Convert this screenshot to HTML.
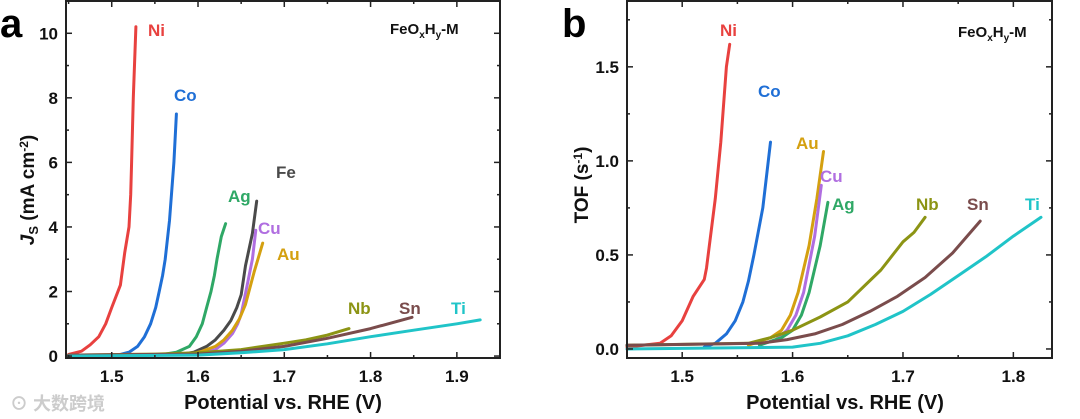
<!DOCTYPE html>
<html><head><meta charset="utf-8">
<style>
body{margin:0;background:#fff;}
svg{display:block;font-family:"Liberation Sans",Arial,sans-serif;font-weight:bold;}
</style></head>
<body>
<svg id="chart" width="1080" height="419" viewBox="0 0 1080 419" xmlns="http://www.w3.org/2000/svg"></svg>
<script>
// ---- Panel a data (Js) ----
const aNames=["Ni","Co","Ag","Fe","Cu","Au","Nb","Sn","Ti"];
const aNi=[[1.45,0.05],[1.465,0.15],[1.475,0.35],[1.485,0.6],[1.493,1.0],[1.5,1.5],[1.51,2.2],[1.515,3.2],[1.52,4.0],[1.522,5.0],[1.523,6],[1.525,8],[1.528,10.2]];
const aCo=[[1.51,0.05],[1.52,0.12],[1.53,0.3],[1.538,0.6],[1.545,1.0],[1.551,1.5],[1.555,2.0],[1.559,2.5],[1.562,3.0],[1.567,4.2],[1.572,6.0],[1.575,7.5]];
const aAg=[[1.56,0.05],[1.575,0.12],[1.59,0.3],[1.598,0.6],[1.605,1.0],[1.61,1.5],[1.615,2.0],[1.619,2.5],[1.622,3.0],[1.627,3.7],[1.632,4.1]];
const aFe=[[1.58,0.05],[1.595,0.12],[1.61,0.3],[1.62,0.5],[1.63,0.8],[1.638,1.1],[1.645,1.5],[1.65,1.9],[1.655,2.8],[1.663,3.8],[1.668,4.8]];
const aCu=[[1.6,0.05],[1.62,0.2],[1.63,0.4],[1.64,0.7],[1.646,1.0],[1.65,1.3],[1.657,2.2],[1.663,3.0],[1.667,3.9]];
const aAu=[[1.59,0.05],[1.605,0.15],[1.62,0.3],[1.63,0.5],[1.64,0.8],[1.648,1.15],[1.655,1.6],[1.665,2.6],[1.675,3.5]];
const aNb=[[1.45,0.03],[1.55,0.06],[1.6,0.1],[1.65,0.2],[1.7,0.4],[1.725,0.5],[1.75,0.65],[1.775,0.85]];
const aSn=[[1.45,0.03],[1.6,0.06],[1.65,0.15],[1.7,0.3],[1.75,0.55],[1.8,0.85],[1.848,1.2]];
const aTi=[[1.45,0.0],[1.6,0.03],[1.65,0.1],[1.7,0.2],[1.75,0.38],[1.8,0.6],[1.85,0.8],[1.9,1.0],[1.927,1.12]];
const aXTicks=[1.5,1.6,1.7,1.8,1.9];
const aYTicks=[0,2,4,6,8,10];
// ---- Panel b data (TOF) ----
const bNames=["Ni","Co","Au","Cu","Ag","Nb","Sn","Ti"];
const bNi=[[1.45,0.01],[1.48,0.03],[1.49,0.07],[1.5,0.15],[1.51,0.28],[1.52,0.37],[1.522,0.43],[1.53,0.8],[1.535,1.1],[1.54,1.5],[1.543,1.62]];
const bCo=[[1.52,0.01],[1.53,0.03],[1.54,0.08],[1.548,0.15],[1.555,0.25],[1.56,0.36],[1.565,0.5],[1.573,0.75],[1.578,1.0],[1.58,1.1]];
const bAu=[[1.56,0.02],[1.58,0.06],[1.59,0.1],[1.598,0.18],[1.605,0.3],[1.615,0.55],[1.622,0.8],[1.628,1.05]];
const bCu=[[1.57,0.02],[1.585,0.05],[1.595,0.1],[1.603,0.18],[1.61,0.3],[1.62,0.6],[1.626,0.87]];
const bAg=[[1.57,0.02],[1.59,0.06],[1.6,0.1],[1.608,0.18],[1.615,0.3],[1.625,0.55],[1.632,0.78]];
const bNb=[[1.45,0.02],[1.56,0.03],[1.58,0.06],[1.6,0.1],[1.625,0.17],[1.65,0.25],[1.68,0.42],[1.70,0.57],[1.71,0.62],[1.72,0.7]];
const bSn=[[1.45,0.02],[1.57,0.03],[1.595,0.05],[1.62,0.08],[1.645,0.13],[1.67,0.2],[1.695,0.28],[1.72,0.38],[1.745,0.51],[1.77,0.68]];
const bTi=[[1.45,0.0],[1.6,0.01],[1.625,0.03],[1.65,0.07],[1.675,0.13],[1.7,0.2],[1.725,0.29],[1.75,0.39],[1.775,0.49],[1.8,0.6],[1.825,0.7]];
const bXTicks=[1.5,1.6,1.7,1.8];
const bYTicks=[0,0.5,1.0,1.5];

const colors={Ni:"#e8413f",Co:"#1f6fd6",Ag:"#2fa866",Fe:"#4a4a4a",Cu:"#b06ee0",Au:"#d4a010",Nb:"#8c9414",Sn:"#7a4c4c",Ti:"#20c4c8"};
const svg=document.getElementById('chart');
const NS="http://www.w3.org/2000/svg";
function mk(tag,attrs,parent){const e=document.createElementNS(NS,tag);for(const k in attrs)e.setAttribute(k,attrs[k]);(parent||svg).appendChild(e);return e;}

function panel(cfg){
  const g=mk('g',{});
  
  
  const X=v=>cfg.L+(v-cfg.x0)/(cfg.x1-cfg.x0)*(cfg.R-cfg.L);
  const Y=v=>cfg.B-(v-cfg.y0)/(cfg.y1-cfg.y0)*(cfg.B-cfg.T);
  cfg.names.forEach((n,i)=>{
    const d=cfg.series[i].map((p,j)=>(j?'L':'M')+X(p[0]).toFixed(1)+','+Y(p[1]).toFixed(1)).join('');
    const p=mk('path',{d:d,fill:'none',stroke:colors[n],'stroke-width':3,'stroke-linejoin':'round','stroke-linecap':'round'},g);
    
    
  });
  const f=mk('rect',{x:cfg.L,y:cfg.T,width:cfg.R-cfg.L,height:cfg.B-cfg.T,fill:'none',stroke:'#222','stroke-width':2},g);
  
  
  const xstep=cfg.xt[1]-cfg.xt[0];
  for(let v=cfg.xt[0]-xstep;v<=cfg.x1+1e-9;v+=xstep/2){
    if(v<cfg.x0)continue;
    const major=cfg.xt.some(t=>Math.abs(t-v)<1e-6);
    const len=major?6:3;
    mk('line',{x1:X(v),x2:X(v),y1:cfg.B,y2:cfg.B-len,stroke:'#222','stroke-width':1.5},g);
    mk('line',{x1:X(v),x2:X(v),y1:cfg.T,y2:cfg.T+len,stroke:'#222','stroke-width':1.5},g);
  }
  cfg.xt.forEach(v=>{
    const t=mk('text',{x:X(v),y:cfg.B+24,'text-anchor':'middle','font-size':17,fill:'#111'},g);
    t.textContent=v.toFixed(1);
    
    
  });
  const ystep=cfg.yt[1]-cfg.yt[0];
  for(let v=cfg.yt[0];v<=cfg.y1+1e-9;v+=ystep/2){
    const major=cfg.yt.some(t=>Math.abs(t-v)<1e-6);
    const len=major?6:3;
    mk('line',{x1:cfg.L,x2:cfg.L+len,y1:Y(v),y2:Y(v),stroke:'#222','stroke-width':1.5},g);
    mk('line',{x1:cfg.R,x2:cfg.R-len,y1:Y(v),y2:Y(v),stroke:'#222','stroke-width':1.5},g);
  }
  cfg.yt.forEach(v=>{
    const t=mk('text',{x:cfg.L-8,y:Y(v)+6,'text-anchor':'end','font-size':17,fill:'#111'},g);
    t.textContent=cfg.yfmt(v);
    
    
  });
  cfg.labels.forEach(l=>{
    const t=mk('text',{x:l[1],y:l[2],'font-size':17,fill:colors[l[0]]},g);
    t.textContent=l[0];
    
    
  });
  return g;
}

panel({id:'panel-a',L:66,R:500,T:1,B:358,x0:1.447,x1:1.95,y0:-0.06,y1:11.0,xt:aXTicks,yt:aYTicks,yfmt:v=>String(v),
  names:aNames,series:[aNi,aCo,aAg,aFe,aCu,aAu,aNb,aSn,aTi],
  labels:[["Ni",148,36],["Co",174,101],["Fe",276,178],["Ag",228,202],["Cu",258,234],["Au",277,260],["Nb",348,314],["Sn",399,314],["Ti",451,314]]});
panel({id:'panel-b',L:627,R:1052,T:1,B:358,x0:1.45,x1:1.835,y0:-0.048,y1:1.85,xt:bXTicks,yt:bYTicks,yfmt:v=>v.toFixed(1),
  names:bNames,series:[bNi,bCo,bAu,bCu,bAg,bNb,bSn,bTi],
  labels:[["Ni",720,36],["Co",758,97],["Au",796,149],["Cu",820,182],["Ag",832,210],["Nb",916,210],["Sn",967,210],["Ti",1025,210]]});

svg.insertAdjacentHTML('beforeend',`
<text x="0" y="37" font-size="40" fill="#000">a</text>
<text x="562" y="37" font-size="40" fill="#000">b</text>
<text x="390" y="34" font-size="15" fill="#111">FeO<tspan font-size="10" dy="4">x</tspan><tspan dy="-4">H</tspan><tspan font-size="10" dy="4">y</tspan><tspan dy="-4">-M</tspan></text>
<text x="958" y="37" font-size="15" fill="#111">FeO<tspan font-size="10" dy="4">x</tspan><tspan dy="-4">H</tspan><tspan font-size="10" dy="4">y</tspan><tspan dy="-4">-M</tspan></text>
<text x="283" y="409" text-anchor="middle" font-size="20" fill="#111">Potential vs. RHE (V)</text>
<text x="845" y="409" text-anchor="middle" font-size="20" fill="#111">Potential vs. RHE (V)</text>
<text transform="translate(34,190) rotate(-90)" text-anchor="middle" font-size="19" fill="#111"><tspan font-style="italic">J</tspan><tspan font-size="13" dy="4">S</tspan><tspan dy="-4"> (mA cm</tspan><tspan font-size="12" dy="-6">-2</tspan><tspan dy="6">)</tspan></text>
<text transform="translate(588,185) rotate(-90)" text-anchor="middle" font-size="19" fill="#111">TOF (s<tspan font-size="12" dy="-6">-1</tspan><tspan dy="6">)</tspan></text>
<text x="10" y="410" font-size="18" fill="#ccc" font-family="'Liberation Sans','Noto Sans CJK SC',sans-serif">⊙ 大数跨境</text>
`);
</script>
</body></html>
